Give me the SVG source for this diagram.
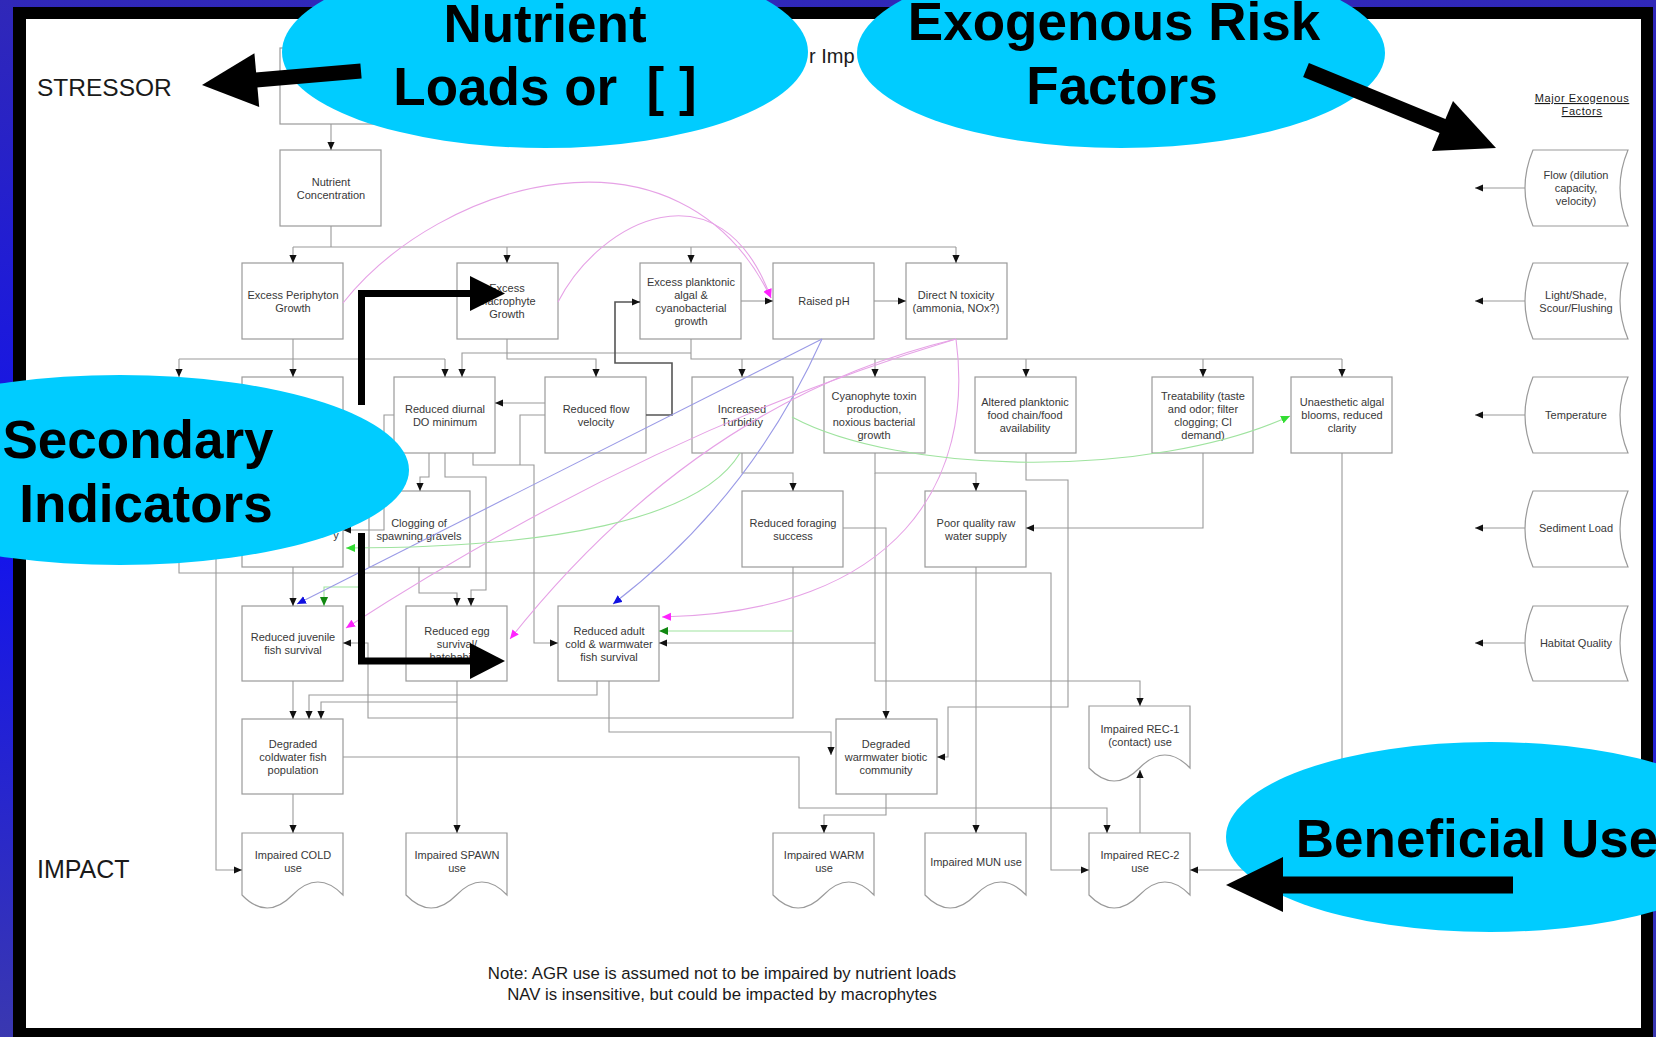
<svg xmlns="http://www.w3.org/2000/svg" width="1656" height="1037" viewBox="0 0 1656 1037">
<defs>
<linearGradient id="bg" x1="0" y1="0" x2="0" y2="1">
<stop offset="0" stop-color="#3028b8"/><stop offset="0.5" stop-color="#1212ee"/><stop offset="1" stop-color="#3a38b0"/>
</linearGradient>
<marker id="a" viewBox="0 0 10 10" refX="10" refY="5" markerWidth="8" markerHeight="8" markerUnits="userSpaceOnUse" orient="auto"><path d="M0,0.5 L10,5 L0,9.5z" fill="#111"/></marker>
<marker id="am" viewBox="0 0 10 10" refX="10" refY="5" markerWidth="9" markerHeight="9" markerUnits="userSpaceOnUse" orient="auto"><path d="M0,0.5 L10,5 L0,9.5z" fill="#ff22ff"/></marker>
<marker id="ab" viewBox="0 0 10 10" refX="10" refY="5" markerWidth="9" markerHeight="9" markerUnits="userSpaceOnUse" orient="auto"><path d="M0,0.5 L10,5 L0,9.5z" fill="#1010e0"/></marker>
<marker id="ag" viewBox="0 0 10 10" refX="10" refY="5" markerWidth="9" markerHeight="9" markerUnits="userSpaceOnUse" orient="auto"><path d="M0,0.5 L10,5 L0,9.5z" fill="#33dd33"/></marker>
<marker id="agd" viewBox="0 0 10 10" refX="10" refY="5" markerWidth="9" markerHeight="9" markerUnits="userSpaceOnUse" orient="auto"><path d="M0,0.5 L10,5 L0,9.5z" fill="#118811"/></marker>
<style>
.box{fill:#fff;stroke:#9a9a9a;stroke-width:1.2}
.t{font-family:"Liberation Sans",Arial,sans-serif;font-size:11px;fill:#383838;text-anchor:middle}
.c{fill:none;stroke:#9a9a9a;stroke-width:1.1}
.ca{fill:none;stroke:#9a9a9a;stroke-width:1.1;marker-end:url(#a)}
.dk{fill:none;stroke:#555;stroke-width:1.6;marker-end:url(#a)}
.pk{fill:none;stroke:#e6a2e6;stroke-width:1.1;marker-end:url(#am)}
.bl{fill:none;stroke:#9a9ae6;stroke-width:1.1;marker-end:url(#ab)}
.gr{fill:none;stroke:#9fe39f;stroke-width:1.1;marker-end:url(#ag)}
.grd{fill:none;stroke:#9fe39f;stroke-width:1.1;marker-end:url(#agd)}
.ell{fill:#00ccff}
.big{font-family:"Liberation Sans",Arial,sans-serif;font-weight:bold;font-size:53px;fill:#000;text-anchor:middle}
.lab{font-family:"Liberation Sans",Arial,sans-serif;fill:#1a1a1a}
.mid{text-anchor:middle}
.k{fill:#000}
.ks{fill:none;stroke:#000}
</style>
</defs>

<rect x="0" y="0" width="1656" height="1037" fill="url(#bg)"/>
<rect x="13" y="7" width="1640" height="1030" fill="#000"/>
<rect x="26" y="19" width="1615" height="1009" fill="#fff"/>

<text class="lab" x="37" y="96" font-size="24.5">STRESSOR</text>
<text class="lab" x="37" y="878" font-size="25">IMPACT</text>
<text class="lab" x="809" y="63" font-size="20">r Imp</text>
<text class="lab mid" x="1582" y="102" font-size="11" letter-spacing="0.6" text-decoration="underline">Major Exogenous</text>
<text class="lab mid" x="1582" y="115" font-size="11" letter-spacing="0.6" text-decoration="underline">Factors</text>
<text class="lab mid" x="722" y="979" font-size="16.8">Note: AGR use is assumed not to be impaired by nutrient loads</text>
<text class="lab mid" x="722" y="1000" font-size="16.8">NAV is insensitive, but could be impacted by macrophytes</text>

<!-- nodes -->
<g id="n-loads"><rect class="box" x="280" y="48" width="101" height="76"/></g>
<g id="n-conc"><rect class="box" x="280" y="150" width="101" height="76"/><text class="t" x="331" y="186">Nutrient</text><text class="t" x="331" y="199">Concentration</text></g>
<g id="n-periphyton"><rect class="box" x="242" y="263" width="101" height="76"/><text class="t" x="293" y="298.5">Excess Periphyton</text><text class="t" x="293" y="311.5">Growth</text></g>
<g id="n-macrophyte"><rect class="box" x="457" y="263" width="101" height="76"/><text class="t" x="507" y="292">Excess</text><text class="t" x="507" y="305">Macrophyte</text><text class="t" x="507" y="318">Growth</text></g>
<g id="n-planktonic"><rect class="box" x="640" y="263" width="101" height="76"/><text class="t" x="691" y="285.5">Excess planktonic</text><text class="t" x="691" y="298.5">algal &amp;</text><text class="t" x="691" y="311.5">cyanobacterial</text><text class="t" x="691" y="324.5">growth</text></g>
<g id="n-ph"><rect class="box" x="773" y="263" width="101" height="76"/><text class="t" x="824" y="305">Raised pH</text></g>
<g id="n-ntox"><rect class="box" x="906" y="263" width="101" height="76"/><text class="t" x="956" y="298.5">Direct N toxicity</text><text class="t" x="956" y="311.5">(ammonia, NOx?)</text></g>

<g id="n-row2-b"><rect class="box" x="242" y="377" width="101" height="76"/></g>
<g id="n-do"><rect class="box" x="394" y="377" width="101" height="76"/><text class="t" x="445" y="412.5">Reduced diurnal</text><text class="t" x="445" y="425.5">DO minimum</text></g>
<g id="n-flow"><rect class="box" x="545" y="377" width="101" height="76"/><text class="t" x="596" y="412.5">Reduced flow</text><text class="t" x="596" y="425.5">velocity</text></g>
<g id="n-turb"><rect class="box" x="692" y="377" width="101" height="76"/><text class="t" x="742" y="412.5">Increased</text><text class="t" x="742" y="425.5">Turbidity</text></g>
<g id="n-cyano"><rect class="box" x="824" y="377" width="101" height="76"/><text class="t" x="874" y="399.5">Cyanophyte toxin</text><text class="t" x="874" y="412.5">production,</text><text class="t" x="874" y="425.5">noxious bacterial</text><text class="t" x="874" y="438.5">growth</text></g>
<g id="n-altered"><rect class="box" x="975" y="377" width="101" height="76"/><text class="t" x="1025" y="406">Altered planktonic</text><text class="t" x="1025" y="419">food chain/food</text><text class="t" x="1025" y="432">availability</text></g>
<g id="n-treat"><rect class="box" x="1152" y="377" width="101" height="76"/><text class="t" x="1203" y="399.5">Treatability (taste</text><text class="t" x="1203" y="412.5">and odor; filter</text><text class="t" x="1203" y="425.5">clogging; Cl</text><text class="t" x="1203" y="438.5">demand)</text></g>
<g id="n-unaes"><rect class="box" x="1291" y="377" width="101" height="76"/><text class="t" x="1342" y="406">Unaesthetic algal</text><text class="t" x="1342" y="419">blooms, reduced</text><text class="t" x="1342" y="432">clarity</text></g>

<g id="n-row3-left"><rect class="box" x="242" y="491" width="101" height="76"/><text class="t" x="336" y="539">y</text></g>
<g id="n-clog"><rect class="box" x="369" y="491" width="101" height="76"/><text class="t" x="419" y="526.5">Clogging of</text><text class="t" x="419" y="539.5">spawning gravels</text></g>
<g id="n-forage"><rect class="box" x="742" y="491" width="101" height="76"/><text class="t" x="793" y="526.5">Reduced foraging</text><text class="t" x="793" y="539.5">success</text></g>
<g id="n-raw"><rect class="box" x="925" y="491" width="101" height="76"/><text class="t" x="976" y="526.5">Poor quality raw</text><text class="t" x="976" y="539.5">water supply</text></g>

<g id="n-juv"><rect class="box" x="242" y="606" width="101" height="75"/><text class="t" x="293" y="641">Reduced juvenile</text><text class="t" x="293" y="654">fish survival</text></g>
<g id="n-egg"><rect class="box" x="406" y="606" width="101" height="75"/><text class="t" x="457" y="634.5">Reduced egg</text><text class="t" x="457" y="647.5">survival/</text><text class="t" x="457" y="660.5">hatchability</text></g>
<g id="n-adult"><rect class="box" x="558" y="606" width="101" height="75"/><text class="t" x="609" y="634.5">Reduced adult</text><text class="t" x="609" y="647.5">cold &amp; warmwater</text><text class="t" x="609" y="660.5">fish survival</text></g>

<g id="n-coldpop"><rect class="box" x="242" y="719" width="101" height="75"/><text class="t" x="293" y="748">Degraded</text><text class="t" x="293" y="761">coldwater fish</text><text class="t" x="293" y="774">population</text></g>
<g id="n-warmcom"><rect class="box" x="836" y="719" width="101" height="75"/><text class="t" x="886" y="748">Degraded</text><text class="t" x="886" y="761">warmwater biotic</text><text class="t" x="886" y="774">community</text></g>

<g id="n-rec1"><path class="box" d="M1089,706 H1190 V768 Q1165,742 1139.5,768 Q1114,794 1089,768 Z"/><text class="t" x="1140" y="733">Impaired REC-1</text><text class="t" x="1140" y="746">(contact) use</text></g>
<g id="n-cold"><path class="box" d="M242,833 H343 V895 Q318,869 292.5,895 Q267,921 242,895 Z"/><text class="t" x="293" y="859">Impaired COLD</text><text class="t" x="293" y="872">use</text></g>
<g id="n-spawn"><path class="box" d="M406,833 H507 V895 Q482,869 456.5,895 Q431,921 406,895 Z"/><text class="t" x="457" y="859">Impaired SPAWN</text><text class="t" x="457" y="872">use</text></g>
<g id="n-warm"><path class="box" d="M773,833 H874 V895 Q849,869 823.5,895 Q798,921 773,895 Z"/><text class="t" x="824" y="859">Impaired WARM</text><text class="t" x="824" y="872">use</text></g>
<g id="n-mun"><path class="box" d="M925,833 H1026 V895 Q1001,869 975.5,895 Q950,921 925,895 Z"/><text class="t" x="976" y="866">Impaired MUN use</text></g>
<g id="n-rec2"><path class="box" d="M1089,833 H1190 V895 Q1165,869 1139.5,895 Q1114,921 1089,895 Z"/><text class="t" x="1140" y="859">Impaired REC-2</text><text class="t" x="1140" y="872">use</text></g>

<g id="f-flow"><path class="box" d="M1533,150 H1628 Q1612,188 1628,226 H1533 Q1517,188 1533,150 Z"/><text class="t" x="1576" y="179">Flow (dilution</text><text class="t" x="1576" y="192">capacity,</text><text class="t" x="1576" y="205">velocity)</text></g>
<g id="f-light"><path class="box" d="M1533,263 H1628 Q1612,301 1628,339 H1533 Q1517,301 1533,263 Z"/><text class="t" x="1576" y="298.5">Light/Shade,</text><text class="t" x="1576" y="311.5">Scour/Flushing</text></g>
<g id="f-temp"><path class="box" d="M1533,377 H1628 Q1612,415 1628,453 H1533 Q1517,415 1533,377 Z"/><text class="t" x="1576" y="419">Temperature</text></g>
<g id="f-sed"><path class="box" d="M1533,491 H1628 Q1612,529 1628,567 H1533 Q1517,529 1533,491 Z"/><text class="t" x="1576" y="532">Sediment Load</text></g>
<g id="f-hab"><path class="box" d="M1533,606 H1628 Q1612,643 1628,681 H1533 Q1517,643 1533,606 Z"/><text class="t" x="1576" y="647">Habitat Quality</text></g>

<!-- connectors -->
<g id="connectors">
<path class="ca" d="M331,124 V150"/>
<path class="c" d="M331,226 V247 M293,247 H956"/>
<path class="ca" d="M293,247 V263"/><path class="ca" d="M507,247 V263"/><path class="ca" d="M691,247 V263"/><path class="ca" d="M956,247 V263"/>
<path class="c" d="M293,339 V359 M179,359 H445"/>
<path class="ca" d="M179,359 V377"/><path class="ca" d="M293,359 V377"/><path class="ca" d="M445,359 V377"/>
<path class="ca" d="M507,339 V359 H596 V377"/>
<path class="c" d="M691,339 V359 H1342"/>
<path class="ca" d="M691,353 H462 V377"/>
<path class="ca" d="M742,359 V377"/><path class="ca" d="M875,359 V377"/><path class="ca" d="M1026,359 V377"/><path class="ca" d="M1203,359 V377"/><path class="ca" d="M1342,359 V377"/>
<path class="ca" d="M741,301 H773"/><path class="ca" d="M874,301 H906"/>
<path class="dk" d="M646,415 H672 V363 H615 V302 H640"/>
<path class="ca" d="M545,403 H495"/>
<path class="c" d="M545,415 H520 V465"/>
<path class="ca" d="M473,453 V465 H534 V643 H558"/>
<path class="ca" d="M445,453 V477 H486 V590 H471 V606"/>
<path class="ca" d="M429,453 V477 H420 V491"/>
<path class="ca" d="M394,415 H384 V530 H343"/>
<path class="ca" d="M742,453 V473 H793 V491"/>
<path class="ca" d="M875,453 V473 H976 V491"/>
<path class="ca" d="M875,473 V643 H659"/>
<path class="ca" d="M875,643 V681 H1140 V706"/>
<path class="ca" d="M1026,453 V480 H1068 V707 H948 V757 H937"/>
<path class="ca" d="M1203,453 V528 H1026"/>
<path class="ca" d="M1342,453 V870 H1190"/>
<path class="ca" d="M419,567 V593 H457 V606"/>
<path class="ca" d="M793,567 V718 H368 V643 H343"/>
<path class="grd" d="M793,631 H659"/>
<path class="ca" d="M843,528 H886 V719"/>
<path class="ca" d="M976,567 V833"/>
<path class="ca" d="M293,681 V719"/>
<path class="ca" d="M457,681 V833"/>
<path class="ca" d="M457,702 H321 V719"/>
<path class="ca" d="M597,681 V695 H309 V719"/>
<path class="ca" d="M609,681 V732 H831 V755"/>
<path class="ca" d="M343,757 H799 V808 H1107 V833"/>
<path class="ca" d="M886,794 V815 H824 V833"/>
<path class="ca" d="M293,794 V833"/>
<path class="ca" d="M1140,833 V770"/>
<path class="ca" d="M179,453 V573 H1051 V870 H1089"/>
<path class="ca" d="M216,453 V870 H242"/>
<path class="ca" d="M293,453 V491"/>
<path class="ca" d="M293,567 V606"/>
<path class="grd" d="M361,587 H324 V606"/>
<path class="ca" d="M1525,188 H1475"/>
<path class="ca" d="M1525,301 H1475"/>
<path class="ca" d="M1525,415 H1475"/>
<path class="ca" d="M1525,528 H1475"/>
<path class="ca" d="M1525,643 H1475"/>
<path class="pk" d="M343,303 C440,180 680,110 771,298"/>
<path class="pk" d="M558,302 C600,220 720,160 771,298"/>
<path class="bl" d="M822,339 Q580,460 297,604"/>
<path class="bl" d="M822,339 Q750,499 613,604"/>
<path class="pk" d="M956,339 Q653,430 346,628"/>
<path class="pk" d="M956,339 Q700,400 510,639"/>
<path class="pk" d="M956,339 C975,480 900,612 662,617"/>
<path class="gr" d="M740,453 C700,520 550,548 346,548"/>
<path class="gr" d="M792,417 C900,475 1150,480 1290,416"/>
</g>

<!-- callouts -->
<g id="callout-nutrient"><ellipse class="ell" cx="545" cy="52" rx="263" ry="96"/><text class="big" x="545" y="42">Nutrient</text><text class="big" x="545" y="105" xml:space="preserve">Loads or  [ ]</text></g>
<g id="callout-exogenous"><ellipse class="ell" cx="1121" cy="53" rx="264" ry="95"/><text class="big" x="1114" y="40">Exogenous Risk</text><text class="big" x="1122" y="104">Factors</text></g>
<g id="callout-secondary"><ellipse class="ell" cx="120" cy="470" rx="289" ry="95"/><text class="big" x="138" y="458">Secondary</text><text class="big" x="146" y="522">Indicators</text></g>
<g id="callout-beneficial"><ellipse class="ell" cx="1490" cy="837" rx="264" ry="95"/><text class="big" x="1477" y="857">Beneficial Use</text></g>

<g id="callout-arrows">
<line class="ks" x1="361" y1="71" x2="256" y2="80" stroke-width="15"/>
<polygon class="k" points="202,85 254.4,53.3 259.2,107.1"/>
<line class="ks" x1="1306" y1="70" x2="1445" y2="127" stroke-width="15"/>
<polygon class="k" points="1496,148 1432,151 1453,101"/>
<line class="ks" x1="1513" y1="885" x2="1280" y2="885" stroke-width="17"/>
<polygon class="k" points="1226,885 1283,857 1283,912"/>
<path class="ks" d="M361.5,405 V293.5 H472" stroke-width="7"/>
<polygon class="k" points="470,276 505,293.5 470,311"/>
<path class="ks" d="M361.5,533 V661 H472" stroke-width="7"/>
<polygon class="k" points="470,643 505,661 470,679"/>
</g>
</svg>
